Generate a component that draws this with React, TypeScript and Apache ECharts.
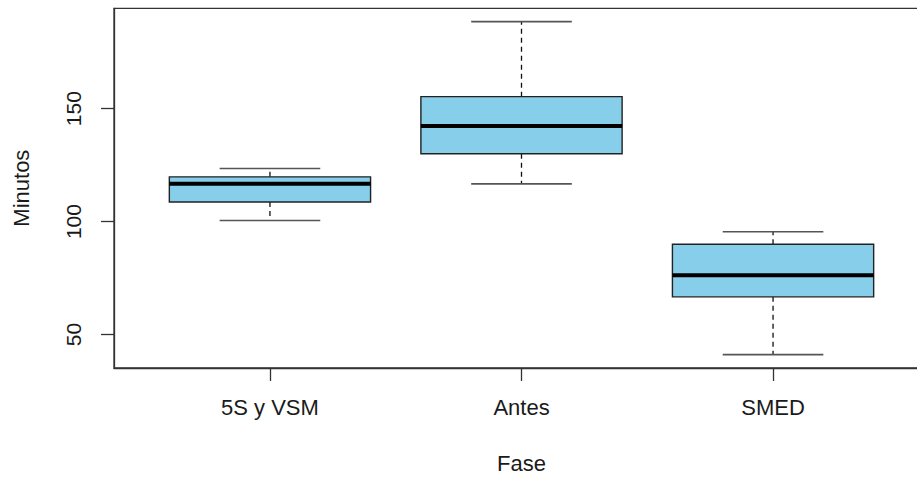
import React, { useEffect, useRef } from "react";
import * as echarts from "echarts";

const categories = ["5S y VSM", "Antes", "SMED"];
const positions = [1, 2, 3];
const mins = [100.5, 116.7, 41.1];
const q1s = [108.7, 130.0, 66.7];
const medians = [116.8, 142.3, 76.2];
const q3s = [119.8, 155.3, 90.0];
const maxs = [123.5, 188.5, 95.5];
const yTicks = [50, 100, 150];

const FONT = "'Liberation Sans', Arial, sans-serif";
const TEXT = "#1a1a1a";
const LINE = "#333333";

export default function App() {
  const ref = useRef<HTMLDivElement>(null);
  useEffect(() => {
    if (!ref.current) return;
    const chart = echarts.init(ref.current, undefined, { renderer: "svg" });
    const data = positions.map((p, i) => [p, mins[i], q1s[i], medians[i], q3s[i], maxs[i]]);
    chart.setOption({
      animation: false,
      backgroundColor: "#ffffff",
      grid: {
        left: 114,
        top: 8.3,
        width: 815,
        height: 359.7,
        outerBoundsMode: "none",
        containLabel: false,
        show: true,
        borderColor: LINE,
        borderWidth: 1.3,
        backgroundColor: "transparent",
      },
      xAxis: {
        type: "value",
        min: 0.38,
        max: 3.62,
        name: "Fase",
        nameLocation: "middle",
        nameGap: 84,
        nameTextStyle: { fontFamily: FONT, fontSize: 22, color: TEXT },
        axisLine: { show: true, lineStyle: { color: LINE, width: 1.3 } },
        axisTick: { show: true, length: 13, customValues: positions, lineStyle: { color: LINE, width: 1.3 } },
        axisLabel: {
          customValues: positions,
          margin: 28,
          fontFamily: FONT,
          fontSize: 22,
          color: TEXT,
          formatter: (v: number) => categories[Math.round(v) - 1] ?? "",
        },
        splitLine: { show: false },
      },
      yAxis: {
        type: "value",
        min: 35.2,
        max: 194.4,
        name: "Minutos",
        nameLocation: "middle",
        nameGap: 82,
        nameRotate: 90,
        nameTextStyle: { fontFamily: FONT, fontSize: 22, color: TEXT },
        axisLine: { show: true, lineStyle: { color: LINE, width: 1.3 } },
        axisTick: { show: true, length: 13, customValues: yTicks, lineStyle: { color: LINE, width: 1.3 } },
        axisLabel: {
          customValues: yTicks,
          rotate: 90,
          margin: 30,
          fontFamily: FONT,
          fontSize: 21,
          color: TEXT,
        },
        splitLine: { show: false },
      },
      series: [
        {
          type: "custom",
          data,
          clip: false,
          renderItem: (params: any, api: any) => {
            const x = api.value(0);
            const mn = api.value(1);
            const q1 = api.value(2);
            const md = api.value(3);
            const q3 = api.value(4);
            const mx = api.value(5);
            const pL = api.coord([x - 0.4, q3]);
            const pR = api.coord([x + 0.4, q1]);
            const cL = api.coord([x - 0.2, mx])[0];
            const cR = api.coord([x + 0.2, mx])[0];
            const cx = api.coord([x, md])[0];
            const yMin = api.coord([x, mn])[1];
            const yQ1 = api.coord([x, q1])[1];
            const yMd = api.coord([x, md])[1];
            const yQ3 = api.coord([x, q3])[1];
            const yMax = api.coord([x, mx])[1];
            const dash = { stroke: "#111", lineWidth: 1.3, lineDash: [5, 4] };
            const cap = { stroke: "#555", lineWidth: 1.6 };
            return {
              type: "group",
              children: [
                { type: "line", shape: { x1: cx, y1: yQ3, x2: cx, y2: yMax }, style: dash },
                { type: "line", shape: { x1: cx, y1: yQ1, x2: cx, y2: yMin }, style: dash },
                { type: "line", shape: { x1: cL, y1: yMax, x2: cR, y2: yMax }, style: cap },
                { type: "line", shape: { x1: cL, y1: yMin, x2: cR, y2: yMin }, style: cap },
                {
                  type: "rect",
                  shape: { x: pL[0], y: pL[1], width: pR[0] - pL[0], height: pR[1] - pL[1] },
                  style: { fill: "#87CEEB", stroke: "#222", lineWidth: 1.4 },
                },
                {
                  type: "line",
                  shape: { x1: pL[0], y1: yMd, x2: pR[0], y2: yMd },
                  style: { stroke: "#000", lineWidth: 4 },
                },
              ],
            };
          },
        },
      ],
    });
    return () => chart.dispose();
  }, []);
  return (
    <div
      ref={ref}
      style={{ position: "fixed", left: 0, top: 0, width: 917, height: 477, background: "#fff" }}
    />
  );
}
